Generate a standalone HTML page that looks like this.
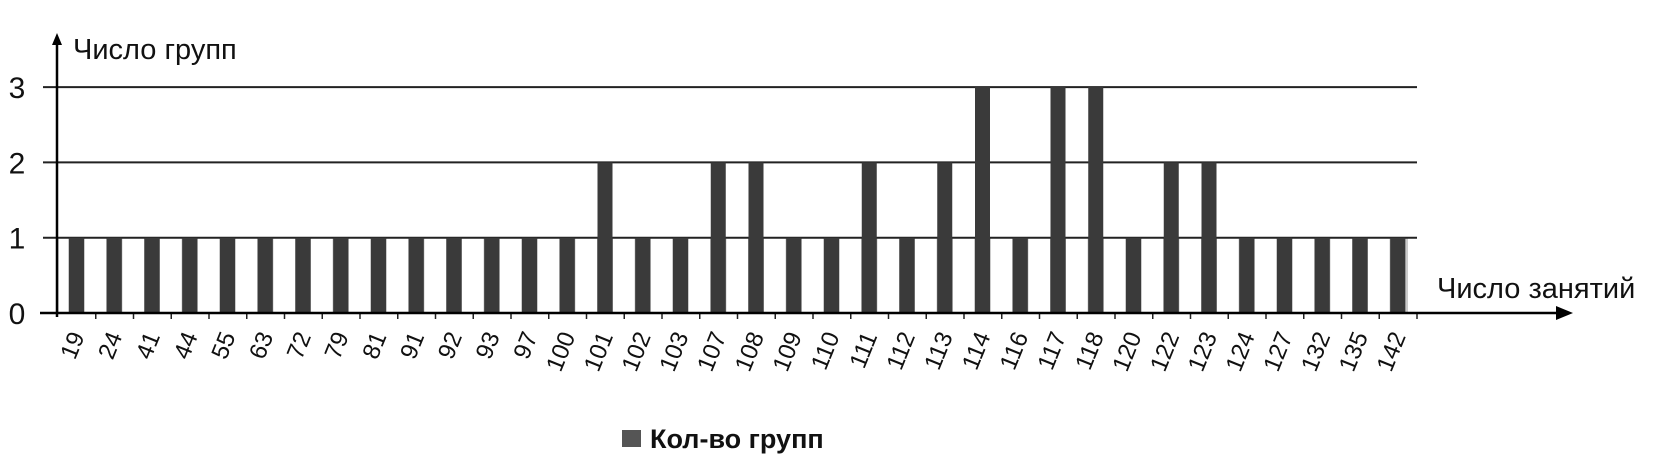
<!DOCTYPE html>
<html><head><meta charset="utf-8"><style>
html,body{margin:0;padding:0;background:#fff;}
svg{display:block;font-family:"Liberation Sans",sans-serif;}
</style></head><body>
<svg id="chart" width="1654" height="471" viewBox="0 0 1654 471"></svg>
<script>
const categories=["19","24","41","44","55","63","72","79","81","91","92","93","97","100","101","102","103","107","108","109","110","111","112","113","114","116","117","118","120","122","123","124","127","132","135","142"];
const values=[1,1,1,1,1,1,1,1,1,1,1,1,1,1,2,1,1,2,2,1,1,2,1,2,3,1,3,3,1,2,2,1,1,1,1,1];
const yTicks=[0,1,2,3];
const NS="http://www.w3.org/2000/svg";
const svg=document.getElementById('chart');
const x0=58,x1=1417,yBase=313,unit=75.3;
const band=(x1-x0)/categories.length;
const xPos=i=>x0+i*band;
const yPos=v=>yBase-v*unit;
function mk(tag,attrs,parent){const e=document.createElementNS(NS,tag);for(const k in attrs)e.setAttribute(k,attrs[k]);(parent||svg).appendChild(e);return e;}
for(let i=0;i<=categories.length;i++){
  const a=i===0?x0:xPos(i-1)+11+15;
  const b=i===categories.length?x1-10:xPos(i)+11;
  if(b<=a)continue;
  const r=mk('rect',{x:a,y:yPos(1),width:b-a,height:yBase-yPos(1),fill:'#fff',stroke:'#999','stroke-width':1});
  
  
}
yTicks.forEach(t=>{
  if(t>0){const g=mk('line',{x1:x0-15,x2:x1,y1:yPos(t),y2:yPos(t),stroke:'#222','stroke-width':2});
  
  }
  const tl=mk('text',{x:17,y:yPos(t)+11,'font-size':30,'text-anchor':'middle',fill:'#111'});
  tl.textContent=String(t);
  
  
});
values.forEach((v,i)=>{
  const r=mk('rect',{x:xPos(i)+11,y:yPos(v),width:15,height:yBase-yPos(v),fill:'#3a3a3a'});
  
  
  const tk=mk('line',{x1:xPos(i+1),x2:xPos(i+1),y1:yBase,y2:yBase+6,stroke:'#222','stroke-width':1.5});
  
  
  const cx=xPos(i)+band/2+8, cy=336;
  const lb=mk('text',{x:cx,y:cy,'font-size':24,'text-anchor':'end',fill:'#111',transform:`rotate(-68 ${cx} ${cy})`});
  lb.textContent=categories[i];
  
  
});
const ya=mk('line',{x1:57,x2:57,y1:yBase+4,y2:40,stroke:'#000','stroke-width':2.5});


const yah=mk('polygon',{points:'57,33 52,45 62,45',fill:'#000'});


const xa=mk('line',{x1:40,x2:1560,y1:yBase,y2:yBase,stroke:'#000','stroke-width':2.5});


const xah=mk('polygon',{points:'1573,313 1556,306 1556,320',fill:'#000'});


const yt=mk('text',{x:73,y:59,'font-size':29,fill:'#111'});
yt.textContent='Число групп';


const xt=mk('text',{x:1437,y:298,'font-size':29,fill:'#111'});
xt.textContent='Число занятий';


const g=mk('g',{});


mk('rect',{x:622,y:430,width:19,height:17,fill:'#555'},g);
const lt=mk('text',{x:650,y:448,'font-size':27,'font-weight':'bold',fill:'#111'},g);
lt.textContent='Кол-во групп';
</script>
</body></html>
